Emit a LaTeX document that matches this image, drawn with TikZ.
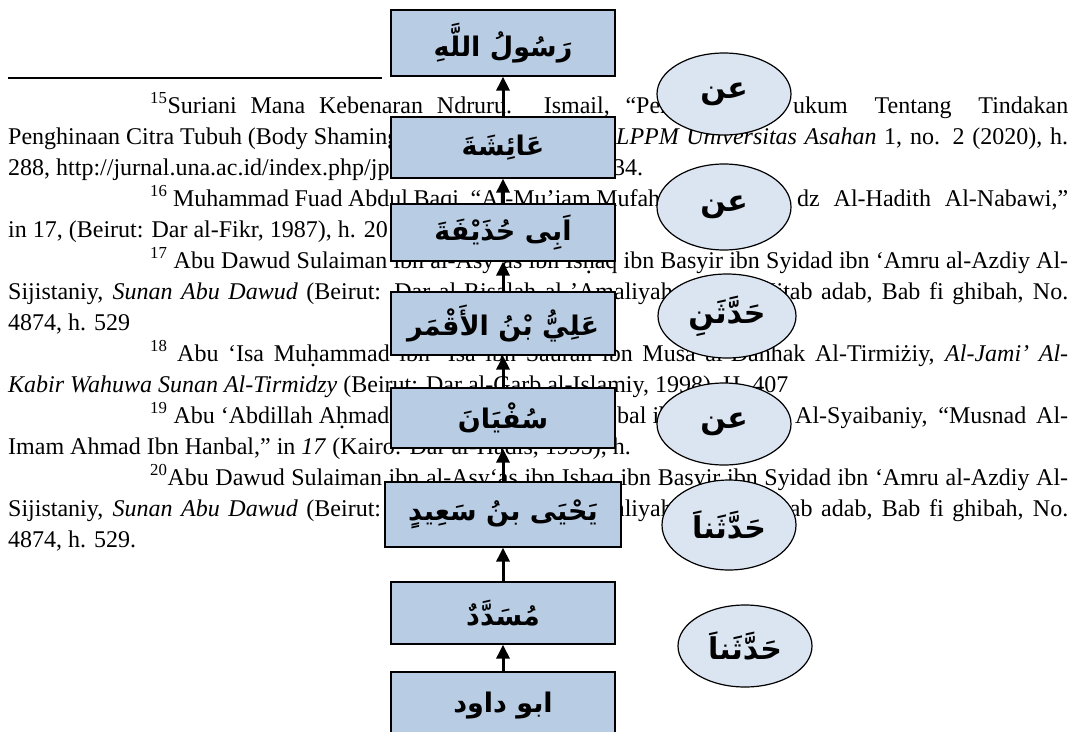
\documentclass[tikz,border=0pt]{standalone}
\usepackage{fontspec}
\setmainfont{Liberation Serif}
\newfontfamily\arabicfont[Script=Arabic]{DejaVu Sans}
\TeXXeTstate=1
\usetikzlibrary{shapes.geometric,arrows.meta}
\definecolor{boxblue}{RGB}{184,204,228}
\definecolor{ellblue}{RGB}{219,229,241}
\newcommand\hd{\ooalign{h\cr\hidewidth\raisebox{-0.5ex}{.}\hidewidth\cr}}
\newcommand\arab{\arabicfont\bfseries\fontsize{27}{30}\selectfont}
\newcommand\arabe{\arabicfont\bfseries\fontsize{30}{32}\selectfont}
\newcommand\bodyfont{\fontsize{24}{28}\selectfont}
\begin{document}
\begin{tikzpicture}[x=1pt,y=-1pt,
  isnad/.style={draw=black, line width=1.2pt, fill=boxblue, minimum width=224pt, inner sep=0pt, font=\arab},
  rawi/.style={ellipse, draw=black, line width=1.2pt, fill=ellblue, minimum width=134pt, minimum height=82pt, inner sep=0pt, font=\arabe},
  up/.style={line width=3pt, -{Triangle[width=13pt,length=14pt]}},
  txt/.style={inner sep=0pt, anchor=base west, font=\bodyfont}]
\useasboundingbox (0,0) rectangle (1078,731);
\clip (0,0) rectangle (1078,731);
\fill[white] (0,0) rectangle (1078,731);
% footnote text
\node[txt] (l1a) at (150,113) {\makebox[522pt][s]{\textsuperscript{15}Suriani Mana Kebenaran Ndruru. Ismail, “Pen}};
\node[txt] (l1b) at (793,113) {\makebox[275pt][s]{ukum Tentang Tindakan}};
\node[txt] (l2a) at (8,144) {Penghinaan Citra Tubuh (Body Shaming};
\node[txt] (l2b) at (616,144) {\makebox[452pt][s]{\textit{LPPM Universitas Asahan} 1, no. 2 (2020), h.}};
\node[txt] (l3a) at (8,175) {288, http://jurnal.una.ac.id/index.php/jpk};
\node[txt] (l3b) at (613,175) {34.};
\node[txt] (l4a) at (150,206) {\makebox[538pt][s]{\textsuperscript{16} Muhammad Fuad Abdul Baqi, “Al-Mu’jam Mufahras}};
\node[txt] (l4b) at (797,206) {\makebox[271pt][s]{dz Al-Hadith Al-Nabawi,”}};
\node[txt] (l5) at (8,237) {in 17, (Beirut: Dar al-Fikr, 1987), h. 201};
\node[txt] (l6) at (150,268) {\makebox[918pt][s]{\textsuperscript{17} Abu Dawud Sulaiman ibn al-Asy‘as ibn Is\hd aq ibn Basyir ibn Syidad ibn ‘Amru al-Azdiy Al-}};
\node[txt] (l7) at (8,299) {\makebox[1060pt][s]{Sijistaniy, \textit{Sunan Abu Dawud} (Beirut: Dar al-Risalah al-’Amaliyah, 2009), Kitab adab, Bab fi ghibah, No.}};
\node[txt] (l8) at (8,330) {4874, h. 529};
\node[txt] (l9) at (150,361) {\makebox[918pt][s]{\textsuperscript{18} Abu ‘Isa Mu\hd ammad ibn ‘Isa ibn Saurah ibn Musa al-Dahhak Al-Tirmiżiy, \textit{Al-Jami’ Al-}}};
\node[txt] (l10) at (8,392) {\textit{Kabir Wahuwa Sunan Al-Tirmidzy} (Beirut: Dar al-Garb al-Islamiy, 1998), H. 407};
\node[txt] (l11a) at (150,423) {\textsuperscript{19} Abu ‘Abdillah A\hd mad ibn};
\node[txt] (l11c) at (617,423) {bal ibn};
\node[txt] (l11b) at (795,423) {\makebox[273pt][s]{Al-Syaibaniy, “Musnad Al-}};
\node[txt] (l12) at (8,454) {Imam Ahmad Ibn Hanbal,” in \textit{17} (Kairo: Dar al-Hadis, 1995), h.};
\node[txt] (l13) at (150,485) {\makebox[918pt][s]{\textsuperscript{20}Abu Dawud Sulaiman ibn al-Asy‘as ibn Is\hd aq ibn Basyir ibn Syidad ibn ‘Amru al-Azdiy Al-}};
\node[txt] (l14) at (8,516) {\makebox[1060pt][s]{Sijistaniy, \textit{Sunan Abu Dawud} (Beirut: Dar al-Risalah al-’Amaliyah, 2009), Kitab adab, Bab fi ghibah, No.}};
\node[txt] (l15) at (8,547) {4874, h. 529.};
% footnote rule
\draw[line width=1.3pt] (8,78) -- (382,78);
% chain of narrators
\node[isnad, minimum height=66pt] (b1) at (503,43) {\beginR رَسُولُ اللَّهِ\endR};
\node[isnad, minimum height=61pt] (b2) at (503,147.5) {\beginR عَائِشَةَ\endR};
\node[isnad, minimum height=57pt] (b3) at (503,232.5) {\beginR اَبِى حُذَيْفَةَ\endR};
\node[isnad, minimum height=63pt] (b4) at (503,323.5) {\beginR عَلِيُّ بْنُ الأَقْمَر\endR};
\node[isnad, minimum height=60pt] (b5) at (503,418) {\beginR سُفْيَانَ\endR};
\node[isnad, minimum height=65pt, minimum width=236pt] (b6) at (503,514.5) {\beginR يَحْيَى بنُ سَعِيدٍ\endR};
\node[isnad, minimum height=62pt] (b7) at (503,613) {\beginR مُسَدَّدٌ\endR};
\node[isnad, minimum height=68pt] (b8) at (503,706) {\beginR ابو داود\endR};
\draw[up] (b2.north) -- (b1.south);
\draw[up] (b3.north) -- (b2.south);
\draw[up] (b4.north) -- (b3.south);
\draw[up] (b5.north) -- (b4.south);
\draw[up] (b6.north) -- (b5.south);
\draw[up] (b7.north) -- (b6.south);
\draw[up] (b8.north) -- (b7.south);
% transmission terms
\node[rawi] (e1) at (724,94) {\beginR عن\endR};
\node[rawi, minimum height=86pt] (e2) at (724,207) {\beginR عن\endR};
\node[rawi, minimum width=138pt, minimum height=84pt] (e3) at (727,316) {\beginR حَدَّثَنِ\endR};
\node[rawi] (e4) at (724,424) {\beginR عن\endR};
\node[rawi, minimum height=90pt] (e5) at (729,525) {\beginR حَدَّثَناَ\endR};
\node[rawi] (e6) at (745,646) {\beginR حَدَّثَناَ\endR};
\end{tikzpicture}
\end{document}
